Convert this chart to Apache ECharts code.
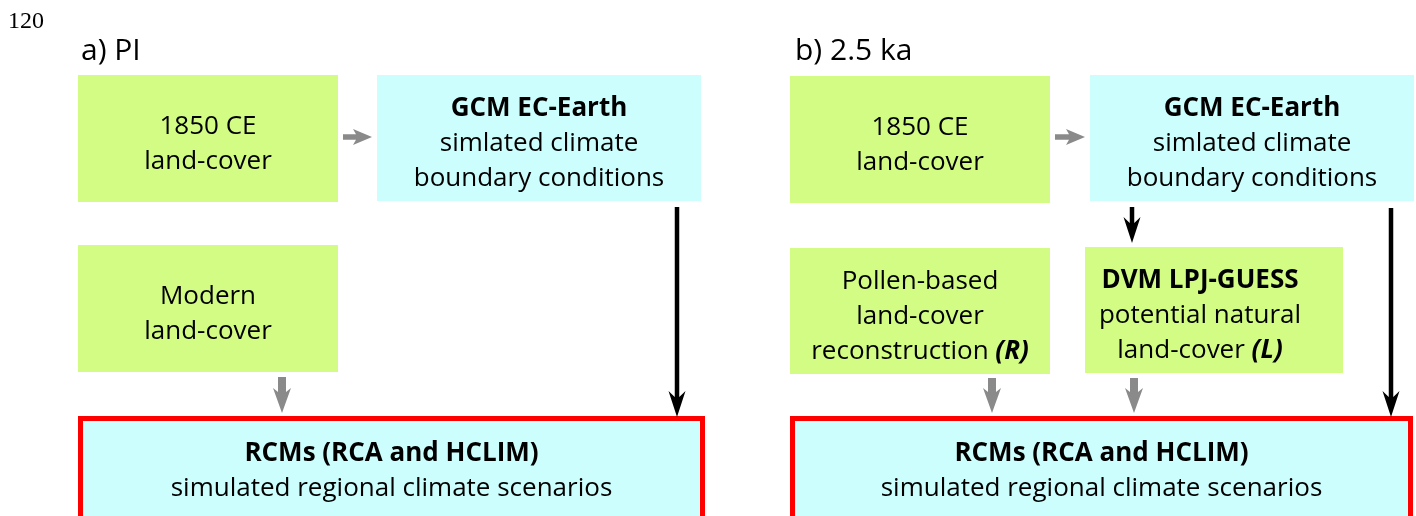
<!DOCTYPE html>
<html>
<head>
<meta charset="utf-8">
<script src="https://cdn.jsdelivr.net/npm/echarts@6/dist/echarts.min.js"></script>
<style>
html,body{margin:0;padding:0;background:#fff;}
#chart{width:1416px;height:516px;}
</style>
</head>
<body>
<div id="chart"></div>
<script>
// diagram space = 1416 x 516 units, y grows downwards
var pageNumber = '120';
var panelTitles = ['a) PI', 'b) 2.5 ka'];
var panelTitleX = [81, 795];

var boxKind = ['land', 'climate', 'land', 'rcm', 'land', 'climate', 'land', 'land', 'rcm'];
var boxX0 = [78, 377, 78, 78, 790, 1090, 790, 1085, 790];
var boxY0 = [75, 75, 245, 416, 76, 75, 248, 247, 416];
var boxX1 = [338, 701, 338, 705, 1050, 1414, 1050, 1343, 1413];
var boxY1 = [202, 201, 372, 521, 203, 201, 374, 373, 521];
var boxTextX = [null, null, null, null, null, null, null, 1200, null];
var boxText = [
  '1850 CE\nland-cover',
  '{b|GCM EC-Earth}\nsimlated climate\nboundary conditions',
  'Modern\nland-cover',
  '{b|RCMs (RCA and HCLIM)}\nsimulated regional climate scenarios',
  '1850 CE\nland-cover',
  '{b|GCM EC-Earth}\nsimlated climate\nboundary conditions',
  'Pollen-based\nland-cover\nreconstruction {bi|(R)}',
  '{b|DVM LPJ-GUESS}\npotential natural\nland-cover {bi|(L)}',
  '{b|RCMs (RCA and HCLIM)}\nsimulated regional climate scenarios'
];

var arrowKind = ['side', 'land', 'climate', 'side', 'climate', 'land', 'land', 'climate'];
var arrowX0 = [343, 282, 677, 1055, 1132, 992, 1134, 1391];
var arrowY0 = [137, 377, 207, 137, 207, 378, 378, 208];
var arrowX1 = [372, 282, 677, 1085, 1132, 992, 1134, 1391];
var arrowY1 = [137, 413, 417, 137, 243, 413, 413, 417];

var FONT = '"Open Sans", "Noto Sans", sans-serif';
var fills = {land: '#d3fc85', climate: '#ccfefe', rcm: '#ccfefe'};
var arrowStyles = {
  side: {color: '#8a8a8a', shaft: 5.5, head: 16, headLen: 19, notch: 3},
  land: {color: '#8a8a8a', shaft: 8, head: 18, headLen: 25, notch: 4},
  climate: {color: '#000000', shaft: 4.5, head: 17, headLen: 26, notch: 6}
};

function renderBox(params, api){
  var i = params.dataIndex;
  var p0 = api.coord([api.value(0), api.value(1)]);
  var p1 = api.coord([api.value(2), api.value(3)]);
  var kind = boxKind[i];
  var lw = kind == 'rcm' ? 5 : 0;
  var tx = boxTextX[i] != null ? api.coord([boxTextX[i], 0])[0] : (p0[0] + p1[0]) / 2;
  var ty = (p0[1] + p1[1]) / 2 + 6;
  if (kind == 'rcm') ty = p0[1] + 55;
  return {
    type: 'group',
    children: [{
      type: 'rect',
      shape: {x: p0[0] + lw / 2, y: p0[1] + lw / 2, width: p1[0] - p0[0] - lw, height: p1[1] - p0[1] - lw},
      style: {fill: fills[kind], stroke: lw ? '#ff0000' : null, lineWidth: lw}
    }, {
      type: 'text',
      style: {
        text: boxText[i], x: tx, y: ty, align: 'center', verticalAlign: 'middle',
        fontFamily: FONT, fontSize: 26, lineHeight: 35, fill: '#000',
        rich: {
          b: {fontFamily: FONT, fontSize: 26, lineHeight: 35, fontWeight: 'bold', fill: '#000'},
          bi: {fontFamily: FONT, fontSize: 26, lineHeight: 35, fontWeight: 'bold', fontStyle: 'italic', fill: '#000'}
        }
      }
    }]
  };
}

function renderArrow(params, api){
  var i = params.dataIndex;
  var a = api.coord([api.value(0), api.value(1)]);
  var b = api.coord([api.value(2), api.value(3)]);
  var st = arrowStyles[arrowKind[i]];
  var dx = b[0] - a[0], dy = b[1] - a[1];
  var len = Math.sqrt(dx * dx + dy * dy);
  var ux = dx / len, uy = dy / len, nx = -uy, ny = ux;
  var sw = st.shaft / 2, hw = st.head / 2, hl = st.headLen, nb = st.notch;
  var pts = [
    [0, -sw], [len - hl + nb, -sw], [len - hl, -hw], [len - hl * 0.5, -hw * 0.5], [len, 0],
    [len - hl * 0.5, hw * 0.5], [len - hl, hw], [len - hl + nb, sw], [0, sw]
  ];
  pts = pts.map(function(p){
    return [a[0] + ux * p[0] + nx * p[1], a[1] + uy * p[0] + ny * p[1]];
  });
  return {type: 'polygon', shape: {points: pts}, style: {fill: st.color}};
}

var titles = [{
  text: pageNumber, left: 8, top: 10, padding: 0,
  textStyle: {fontFamily: '"Liberation Serif", serif', fontSize: 24, fontWeight: 'normal', color: '#000'}
}];
panelTitles.forEach(function(t, i){
  titles.push({
    text: t, left: panelTitleX[i], top: 36, padding: 0,
    textStyle: {fontFamily: FONT, fontSize: 30, fontWeight: 'normal', color: '#000'}
  });
});

var chart = echarts.init(document.getElementById('chart'));
chart.setOption({
  backgroundColor: '#fff',
  animation: false,
  title: titles,
  grid: {left: 0, right: 0, top: 0, bottom: 0},
  xAxis: {type: 'value', min: 0, max: 1416, show: false},
  yAxis: {type: 'value', min: 0, max: 516, inverse: true, show: false},
  series: [{
    type: 'custom',
    name: 'boxes',
    renderItem: renderBox,
    encode: {x: [0, 2], y: [1, 3]},
    data: boxKind.map(function(k, i){ return [boxX0[i], boxY0[i], boxX1[i], boxY1[i]]; })
  }, {
    type: 'custom',
    name: 'arrows',
    renderItem: renderArrow,
    encode: {x: [0, 2], y: [1, 3]},
    data: arrowKind.map(function(k, i){ return [arrowX0[i], arrowY0[i], arrowX1[i], arrowY1[i]]; })
  }]
});
</script>
</body>
</html>
